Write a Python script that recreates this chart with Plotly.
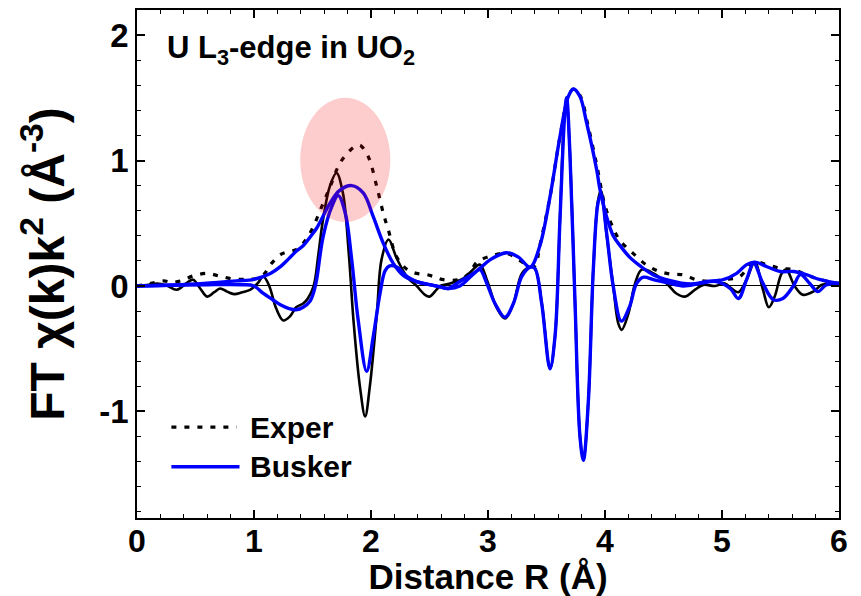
import plotly.graph_objects as go

# ---------------- data ----------------
# Experimental FT imaginary part (solid black)
exp_im_r = [0.00, 0.10, 0.17, 0.25, 0.34, 0.42, 0.48, 0.54, 0.60, 0.66, 0.71, 0.77, 0.83, 0.90, 0.97,
            1.03, 1.08, 1.13, 1.19, 1.25, 1.31, 1.36, 1.42, 1.46, 1.51, 1.55, 1.59, 1.65, 1.705, 1.76,
            1.81, 1.85, 1.905, 1.95, 1.99, 2.05, 2.09, 2.15, 2.22, 2.31, 2.39, 2.46, 2.50, 2.56, 2.59,
            2.675, 2.79, 2.86, 2.93, 2.99, 3.07, 3.145, 3.217, 3.29, 3.36, 3.40, 3.46, 3.53, 3.573,
            3.615, 3.655, 3.672, 3.70, 3.744, 3.786, 3.815, 3.857, 3.90, 3.94, 3.965, 4.015, 4.07,
            4.114, 4.143, 4.20, 4.257, 4.314, 4.414, 4.527, 4.61, 4.684, 4.77, 4.84, 4.94, 5.025,
            5.08, 5.14, 5.21, 5.28, 5.35, 5.40, 5.45, 5.51, 5.55, 5.62, 5.69, 5.78, 5.85, 5.93, 6.00]
exp_im_y = [0.00, 0.01, 0.02, 0.005, -0.03, 0.02, 0.05, -0.02, -0.085, -0.05, -0.02, -0.045, -0.065, -0.05, -0.03,
            0.02, 0.075, 0.0, -0.18, -0.275, -0.24, -0.17, -0.14, -0.10, 0.0, 0.25, 0.53, 0.80, 0.90, 0.74,
            0.26, -0.27, -0.80, -1.04, -0.80, -0.22, 0.21, 0.37, 0.22, 0.07, 0.0, -0.07, -0.085, -0.03, 0.0,
            0.02, 0.06, 0.12, 0.17, 0.05, -0.165, -0.26, -0.14, 0.10, 0.15, 0.14, -0.14, -0.66, -0.40,
            0.53, 1.38, 1.47, 1.06, -0.14, -1.20, -1.39, -0.93, 0.13, 0.68, 0.76, 0.40, 0.0,
            -0.30, -0.35, -0.22, 0.02, 0.13, 0.10, 0.02, -0.06, -0.085, -0.03, 0.008, 0.0, 0.02,
            -0.02, -0.05, 0.05, 0.19, -0.03, -0.17, -0.085, 0.10, 0.13, 0.0, -0.07, -0.045, 0.008, 0.02, 0.008]

# Experimental FT magnitude (dotted black)
exp_mag_r = [0.00, 0.12, 0.225, 0.30, 0.37, 0.48, 0.60, 0.70, 0.82, 0.94, 1.02, 1.08, 1.15, 1.236, 1.30,
             1.36, 1.42, 1.49, 1.578, 1.65, 1.735, 1.82, 1.88, 1.91, 1.977, 2.05, 2.105, 2.15, 2.22,
             2.31, 2.39, 2.48, 2.55, 2.62, 2.75, 2.84, 2.905, 3.03, 3.16, 3.26, 3.33, 3.40, 3.44, 3.53,
             3.615, 3.686, 3.73, 3.786, 3.857, 3.93, 4.00, 4.07, 4.13, 4.24, 4.35, 4.45, 4.555, 4.67,
             4.78, 4.90, 5.01, 5.15, 5.27, 5.38, 5.50, 5.61, 5.72, 5.84, 6.00]
exp_mag_y = [0.0, 0.02, 0.04, 0.03, 0.04, 0.08, 0.10, 0.08, 0.056, 0.053, 0.06, 0.088, 0.18, 0.255, 0.275,
             0.29, 0.34, 0.44, 0.63, 0.79, 0.98, 1.08, 1.12, 1.12, 1.03, 0.79, 0.58, 0.44, 0.23,
             0.13, 0.10, 0.09, 0.07, 0.05, 0.05, 0.10, 0.19, 0.24, 0.26, 0.21, 0.17, 0.16, 0.31, 0.71,
             1.19, 1.51, 1.57, 1.52, 1.27, 0.96, 0.64, 0.46, 0.36, 0.26, 0.17, 0.12, 0.096, 0.088,
             0.05, 0.035, 0.05, 0.074, 0.19, 0.17, 0.14, 0.13, 0.09, 0.05, 0.02]

# Busker fit, imaginary part (solid blue)
fit_im_r = [0.00, 0.30, 0.60, 0.90, 1.00, 1.08, 1.16, 1.225, 1.30, 1.36, 1.42, 1.48, 1.51, 1.535, 1.59,
            1.664, 1.72, 1.78, 1.835, 1.89, 1.963, 2.02, 2.077, 2.12, 2.16, 2.22, 2.31, 2.39, 2.50,
            2.60, 2.66, 2.76, 2.87, 2.93, 2.99, 3.06, 3.145, 3.217, 3.288, 3.36, 3.40, 3.459, 3.53,
            3.573, 3.615, 3.658, 3.672, 3.70, 3.744, 3.786, 3.815, 3.857, 3.90, 3.94, 3.966, 4.014,
            4.07, 4.14, 4.21, 4.27, 4.33, 4.414, 4.53, 4.67, 4.81, 4.95, 5.07, 5.14, 5.21, 5.27,
            5.35, 5.44, 5.52, 5.61, 5.67, 5.75, 5.82, 5.89, 6.00]
fit_im_y = [0.00, 0.005, 0.01, 0.01, 0.0, -0.06, -0.11, -0.15, -0.18, -0.19, -0.17, -0.12, -0.05, 0.05, 0.39,
            0.63, 0.72, 0.58, 0.21, -0.27, -0.68, -0.40, -0.06, 0.12, 0.16, 0.15, 0.074, 0.035, 0.01,
            -0.01, -0.02, 0.0, 0.09, 0.13, 0.02, -0.14, -0.25, -0.14, 0.074, 0.15, 0.14, -0.14, -0.66,
            -0.40, 0.53, 1.40, 1.50, 1.06, -0.14, -1.20, -1.39, -0.93, 0.13, 0.66, 0.73, 0.42,
            0.0, -0.28, -0.165, 0.02, 0.07, 0.05, 0.027, 0.0, 0.02, 0.035, -0.02, -0.10, 0.05, 0.18,
            0.02, -0.11, -0.10, 0.0, 0.09, 0.02, -0.045, 0.008, 0.02]

# Busker fit, magnitude (solid blue)
fit_mag_r = [0.00, 0.30, 0.57, 0.85, 1.00, 1.14, 1.22, 1.30, 1.365, 1.42, 1.48, 1.535, 1.65, 1.73, 1.835,
             1.935, 2.02, 2.105, 2.19, 2.28, 2.39, 2.50, 2.60, 2.66, 2.76, 2.875, 2.93, 3.02, 3.16,
             3.26, 3.36, 3.44, 3.53, 3.615, 3.686, 3.73, 3.786, 3.843, 3.93, 3.957, 4.014, 4.07, 4.13,
             4.21, 4.30, 4.41, 4.55, 4.73, 4.87, 5.01, 5.125, 5.21, 5.28, 5.38, 5.50, 5.61, 5.72,
             5.84, 6.00]
fit_mag_y = [0.0, 0.008, 0.02, 0.04, 0.053, 0.10, 0.15, 0.22, 0.28, 0.32, 0.39, 0.46, 0.66, 0.76, 0.80,
             0.74, 0.55, 0.34, 0.18, 0.08, 0.035, 0.01, -0.01, -0.02, 0.035, 0.10, 0.14, 0.21, 0.265,
             0.23, 0.15, 0.31, 0.71, 1.19, 1.51, 1.57, 1.51, 1.30, 0.92, 0.77, 0.55, 0.40, 0.32,
             0.23, 0.16, 0.09, 0.045, 0.016, 0.035, 0.05, 0.10, 0.17, 0.19, 0.155, 0.115, 0.115, 0.09,
             0.05, 0.02]

legend_names = ["Exper", "Busker"]
x_ticks = [0, 1, 2, 3, 4, 5, 6]
y_ticks = [-1, 0, 1, 2]

FONT = "Liberation Sans, Arial, sans-serif"

fig = go.Figure()
fig.add_trace(go.Scatter(x=exp_im_r, y=exp_im_y, mode="lines", showlegend=False,
                         line=dict(color="black", width=2.6, shape="spline", smoothing=1.0)))
fig.add_trace(go.Scatter(x=exp_mag_r, y=exp_mag_y, mode="lines", name=legend_names[0], showlegend=False,
                         line=dict(color="black", width=3.2, dash="5px,8px", shape="spline", smoothing=1.0)))
fig.add_trace(go.Scatter(x=fit_im_r, y=fit_im_y, mode="lines", showlegend=False,
                         line=dict(color="#0000ff", width=3.4, shape="spline", smoothing=1.0)))
fig.add_trace(go.Scatter(x=fit_mag_r, y=fit_mag_y, mode="lines", name=legend_names[1], showlegend=False,
                         line=dict(color="#0000ff", width=3.4, shape="spline", smoothing=1.0)))

# translucent highlight ellipse
fig.add_shape(type="circle", xref="x", yref="y", x0=1.395, x1=2.165, y0=0.51, y1=1.50,
              fillcolor="rgba(245,0,0,0.2)", line=dict(width=0), layer="above")

# manual legend
fig.add_shape(type="line", xref="paper", yref="paper", x0=0.049, x1=0.142, y0=0.179, y1=0.179,
              line=dict(color="black", width=3.2, dash="5px,8px"))
fig.add_shape(type="line", xref="paper", yref="paper", x0=0.049, x1=0.146, y0=0.101, y1=0.101,
              line=dict(color="#0000ff", width=3.4))
fig.add_annotation(xref="paper", yref="paper", x=0.158, y=0.179, text="<b>%s</b>" % legend_names[0],
                   showarrow=False, xanchor="left", yanchor="middle",
                   font=dict(family=FONT, size=30, color="black"))
fig.add_annotation(xref="paper", yref="paper", x=0.158, y=0.101, text="<b>%s</b>" % legend_names[1],
                   showarrow=False, xanchor="left", yanchor="middle",
                   font=dict(family=FONT, size=30, color="black"))

fig.add_annotation(xref="paper", yref="paper", x=0.04, y=0.921,
                   text="<b>U L<sub>3</sub>-edge in UO<sub>2</sub></b>",
                   showarrow=False, xanchor="left", yanchor="middle",
                   font=dict(family=FONT, size=31, color="black"))

axis_common = dict(showline=True, linecolor="black", linewidth=1.5, mirror="allticks",
                   ticks="inside", ticklen=8, tickwidth=1.5, tickcolor="black",
                   showgrid=False)

fig.update_xaxes(range=[0, 6], tickvals=x_ticks, ticktext=["<b>%d</b>" % v for v in x_ticks],
                 zeroline=False, automargin=True,
                 tickfont=dict(family=FONT, size=32, color="black"),
                 minor=dict(ticks="inside", dtick=0.2, ticklen=4, tickwidth=1.2, tickcolor="black"),
                 title=dict(text="<b>Distance R (Å)</b>", font=dict(family=FONT, size=35, color="black"),
                            standoff=4),
                 ticklabelstandoff=-6,
                 **axis_common)
fig.update_yaxes(range=[-1.85, 2.2], tickvals=y_ticks, ticktext=["<b>%d</b>" % v for v in y_ticks],
                 zeroline=True, zerolinecolor="black", zerolinewidth=1.2, automargin=True,
                 tickfont=dict(family=FONT, size=33, color="black"),
                 minor=dict(ticks="inside", dtick=0.2, ticklen=4, tickwidth=1.2, tickcolor="black"),
                 title=dict(text="<b>FT χ(k)k<sup>2</sup> (Å<sup>-3</sup>)</b>",
                            font=dict(family=FONT, size=48, color="black"), standoff=20),
                 **axis_common)

fig.update_layout(width=861, height=596, margin=dict(l=137, r=22, t=10, b=78, autoexpand=False),
                  paper_bgcolor="white", plot_bgcolor="white", showlegend=False)

fig.write_html("out.html", config={"displayModeBar": False},
               post_script="document.body.style.margin='0px';document.body.style.overflow='hidden';")
